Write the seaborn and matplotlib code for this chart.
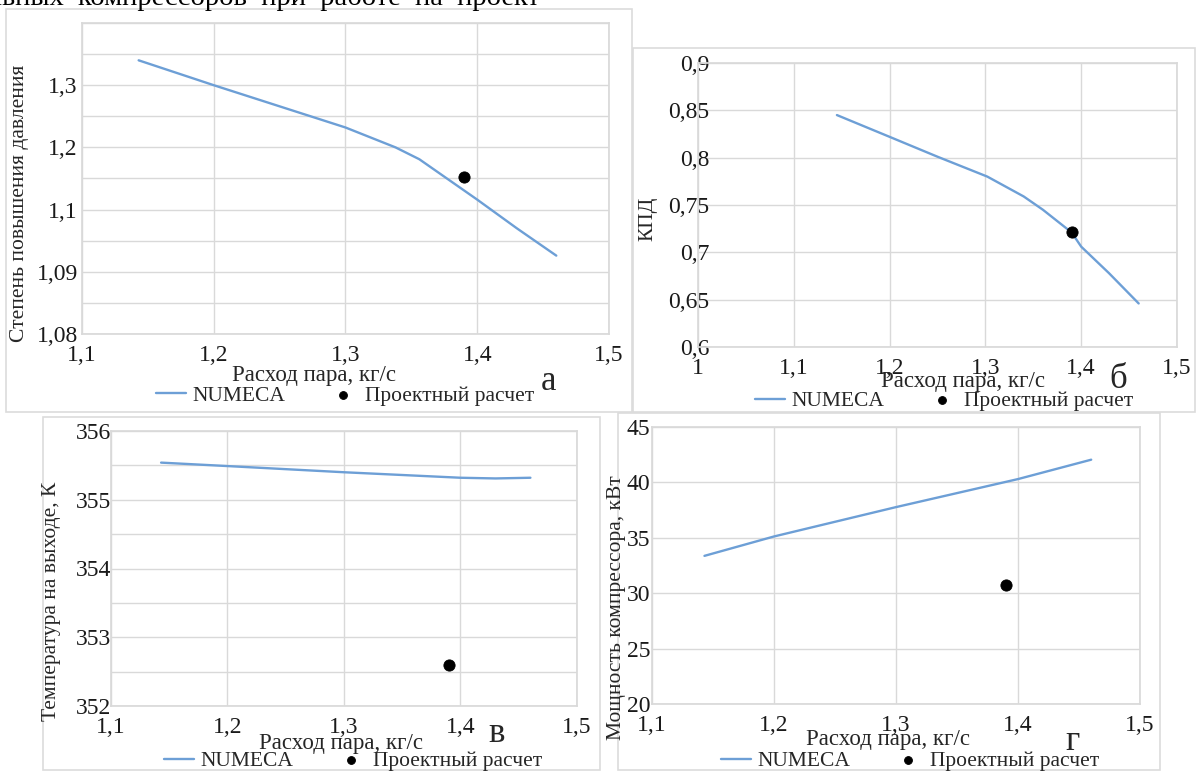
import numpy as np
import pandas as pd
import seaborn as sns
import matplotlib.pyplot as plt
from matplotlib.patches import Rectangle

# ---- данные ----
# а) степень повышения давления (по оси отложено так, как подписано на рисунке)
flow_a = [1.143, 1.20, 1.25, 1.30, 1.338, 1.356, 1.40, 1.43, 1.46]
ratio_a = [1.340, 1.300, 1.266, 1.232, 1.200, 1.181, 1.116, 1.070, 1.026]
ratio_a_ticks = [0.9, 1.0, 1.1, 1.2, 1.3]
ratio_a_labels = ["1,08", "1,09", "1,1", "1,2", "1,3"]

# б) КПД
flow_b = [1.145, 1.20, 1.25, 1.302, 1.34, 1.36, 1.39, 1.40, 1.429, 1.46]
eff_b = [0.845, 0.822, 0.801, 0.780, 0.759, 0.745, 0.721, 0.706, 0.678, 0.646]

# в) температура на выходе, К
flow_c = [1.143, 1.20, 1.30, 1.40, 1.43, 1.46]
temp_c = [355.54, 355.49, 355.40, 355.32, 355.31, 355.32]

# г) мощность компрессора, кВт
flow_d = [1.143, 1.20, 1.30, 1.40, 1.46]
power_d = [33.37, 35.12, 37.77, 40.30, 42.05]

# проектный расчет (одна точка на каждом графике)
design_flow = 1.39
design_ratio = 1.152
design_eff = 0.721
design_temp = 352.6
design_power = 30.7

W, H = 1196, 771
BLUE = "#6d9fd6"
GRID = "#d9d9d9"
SERIF = ["Liberation Serif", "DejaVu Serif"]

sns.set_theme(style="white")
plt.rcParams["font.family"] = SERIF

fig = plt.figure(figsize=(W / 100, H / 100), dpi=100)


def fx(px):
    return px / W


def fy(py):
    return 1 - py / H


def comma(v):
    return f"{v:g}".replace(".", ",")


# рамки диаграмм
for x0, y0, x1, y1 in [(6, 9, 632, 412), (633, 48, 1195, 412),
                       (43, 417, 600, 770), (618, 413, 1160, 770)]:
    fig.add_artist(Rectangle((fx(x0), fy(y1)), fx(x1 - x0), (y1 - y0) / H,
                             transform=fig.transFigure, fill=False,
                             edgecolor="#dcdcdc", lw=1.2))

# обрезанная строка текста над рисунком
fig.text(fx(-12), fy(-2), "льных  компрессоров  при  работе  на  проект",
         fontsize=20.5, ha="left", va="center", color="black")


def panel(box, x, y, px, py, xlim, xticks, ylim, yticks, ylabels, grid_step,
          ylab, ylab_pos, xlab_pos, leg_pos, letter, letter_pos, ypad):
    l, t, r, b = box
    ax = fig.add_axes([fx(l), fy(b), fx(r - l), (b - t) / H])
    sns.lineplot(x=x, y=y, ax=ax, color=BLUE, lw=1.7, label="NUMECA")
    sns.scatterplot(x=[px], y=[py], ax=ax, color="black", s=65,
                    edgecolor="black", label="Проектный расчет", zorder=5)
    ax.set_xlim(*xlim)
    ax.set_ylim(*ylim)
    ax.set_xticks(xticks)
    ax.set_xticklabels([comma(v) for v in xticks])
    ax.set_yticks(np.arange(ylim[0], ylim[1] + grid_step / 2, grid_step), minor=True)
    ax.set_yticks(yticks)
    ax.set_yticklabels(ylabels)
    ax.grid(True, which="both", color=GRID, lw=1)
    ax.tick_params(which="both", length=0, labelsize=17, colors="#1a1a1a")
    ax.tick_params(axis="x", pad=8)
    ax.tick_params(axis="y", pad=ypad)
    for s in ax.spines.values():
        s.set_color(GRID)
    ax.set_xlabel("")
    ax.set_ylabel("")
    ax.legend().remove()
    handles, labels = ax.get_legend_handles_labels()
    fig.legend(handles, labels, loc="center",
               bbox_to_anchor=(fx(leg_pos[0]), fy(leg_pos[1])), ncol=2,
               frameon=False, fontsize=15.5, handlelength=1.4, handletextpad=0.3,
               columnspacing=2.0, borderpad=0, markerscale=0.7)
    fig.text(fx(xlab_pos[0]), fy(xlab_pos[1]), "Расход пара, кг/с",
             fontsize=16.5, ha="center", va="center")
    fig.text(fx(ylab_pos[0]), fy(ylab_pos[1]), ylab, fontsize=15.5,
             rotation=90, ha="center", va="center")
    fig.text(fx(letter_pos[0]), fy(letter_pos[1]), letter, fontsize=25,
             ha="center", va="center")
    return ax


x_ticks = [1.1, 1.2, 1.3, 1.4, 1.5]

panel((82, 23, 609, 334), flow_a, ratio_a, design_flow, design_ratio,
      (1.1, 1.5), x_ticks, (0.9, 1.4), ratio_a_ticks, ratio_a_labels, 0.05,
      "Степень повышения давления", (20, 203), (314, 375), (345, 396),
      "а", (549, 381), 3)

eff_ticks = [0.6, 0.65, 0.7, 0.75, 0.8, 0.85, 0.9]
panel((698, 63, 1177, 347), flow_b, eff_b, design_flow, design_eff,
      (1.0, 1.5), [1.0, 1.1, 1.2, 1.3, 1.4, 1.5], (0.6, 0.9), eff_ticks,
      [comma(v) for v in eff_ticks], 0.05,
      "КПД", (648, 219), (963, 382), (944, 401), "б", (1118, 380), -8)

temp_ticks = [352, 353, 354, 355, 356]
panel((111, 431, 577, 706), flow_c, temp_c, design_flow, design_temp,
      (1.1, 1.5), x_ticks, (352, 356), temp_ticks,
      [str(v) for v in temp_ticks], 0.5,
      "Температура на выходе, К", (52, 601), (341, 743), (353, 761),
      "в", (497, 733), 0)

power_ticks = [20, 25, 30, 35, 40, 45]
panel((652, 427, 1140, 704), flow_d, power_d, design_flow, design_power,
      (1.1, 1.5), x_ticks, (20, 45), power_ticks,
      [str(v) for v in power_ticks], 5,
      "Мощность компрессора, кВт", (617, 608), (888, 740), (910, 761),
      "г", (1073, 741), 1)

fig.savefig("out.png", dpi=100)
